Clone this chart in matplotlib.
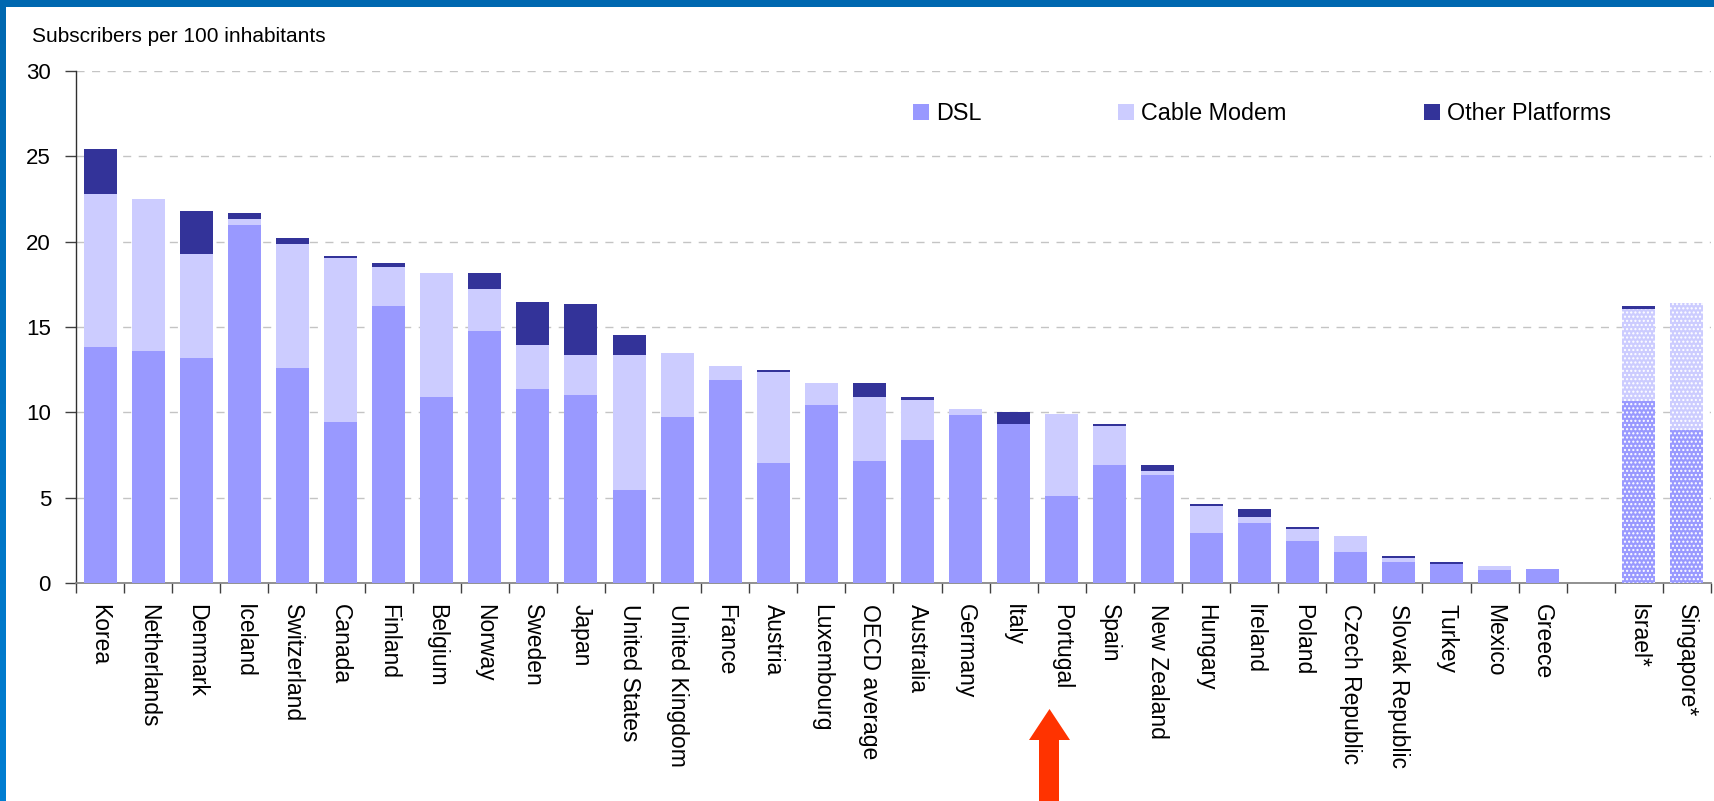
import numpy as np
import matplotlib
matplotlib.use("Agg")
import matplotlib.pyplot as plt
from matplotlib.patches import Rectangle, Polygon
from matplotlib.ticker import FixedLocator, NullFormatter
from matplotlib.colors import LinearSegmentedColormap

# ---------------- data ----------------
countries = ["Korea", "Netherlands", "Denmark", "Iceland", "Switzerland", "Canada",
             "Finland", "Belgium", "Norway", "Sweden", "Japan", "United States",
             "United Kingdom", "France", "Austria", "Luxembourg", "OECD average",
             "Australia", "Germany", "Italy", "Portugal", "Spain", "New Zealand",
             "Hungary", "Ireland", "Poland", "Czech Republic", "Slovak Republic",
             "Turkey", "Mexico", "Greece", "Israel*", "Singapore*"]
dsl = [13.83, 13.59, 13.18, 20.98, 12.60, 9.43, 16.23, 10.90, 14.77, 11.37, 11.02,
       5.45, 9.73, 11.89, 7.03, 10.43, 7.15, 8.38, 9.84, 9.32, 5.10, 6.91, 6.33,
       2.93, 3.52, 2.46, 1.82, 1.23, 1.11, 0.76, 0.82, 10.66, 8.96]
cable = [8.96, 8.91, 6.10, 0.35, 7.26, 9.61, 2.29, 7.26, 2.46, 2.58, 2.34,
         7.91, 3.75, 0.82, 5.33, 1.29, 3.75, 2.34, 0.36, 0.00, 4.80, 2.29, 0.23,
         1.58, 0.35, 0.70, 0.93, 0.23, 0.00, 0.24, 0.00, 5.38, 7.45]
other = [2.64, 0.00, 2.52, 0.35, 0.35, 0.12, 0.23, 0.00, 0.93, 2.51, 2.99,
         1.17, 0.00, 0.00, 0.12, 0.00, 0.82, 0.18, 0.00, 0.70, 0.00, 0.12, 0.35,
         0.12, 0.47, 0.12, 0.00, 0.12, 0.12, 0.00, 0.00, 0.19, 0.00]
series_names = ["DSL", "Cable Modem", "Other Platforms"]
yticks = [0, 5, 10, 15, 20, 25, 30]
ylabel_text = "Subscribers per 100 inhabitants"

# ---------------- style ----------------
c_dsl, c_cable, c_other = "#9999FF", "#CCCCFF", "#333399"
W, H = 1715, 801
plt.rcParams["font.family"] = ["Liberation Sans", "DejaVu Sans"]
plt.rcParams["hatch.linewidth"] = 1.0
plt.rcParams["lines.scale_dashes"] = False

fig = plt.figure(figsize=(W / 100, H / 100), dpi=100, facecolor="white")
ax = fig.add_axes([76 / W, 1 - 583 / H, (1711 - 76) / W, (583 - 71) / H])

dsl_a = np.array(dsl)
cab_a = np.array(cable)
oth_a = np.array(other)
starred = np.array([c.endswith("*") for c in countries])
pos = np.arange(len(countries)) + starred.astype(int)   # gap before starred economies
bw = 0.686

normal = ~starred
ax.bar(pos[normal], dsl_a[normal], bw, color=c_dsl, linewidth=0, zorder=3, label=series_names[0])
ax.bar(pos[normal], cab_a[normal], bw, bottom=dsl_a[normal], color=c_cable, linewidth=0, zorder=3,
       label=series_names[1])
ax.bar(pos[normal], oth_a[normal], bw, bottom=(dsl_a + cab_a)[normal], color=c_other, linewidth=0,
       zorder=3, label=series_names[2])
# starred economies: dotted fill
ax.bar(pos[starred], dsl_a[starred], bw, color=c_dsl, edgecolor="white", linewidth=0,
       hatch="....", zorder=3)
ax.bar(pos[starred], cab_a[starred], bw, bottom=dsl_a[starred], color=c_cable, edgecolor="white",
       linewidth=0, hatch="....", zorder=3)
ax.bar(pos[starred], oth_a[starred], bw, bottom=(dsl_a + cab_a)[starred], color=c_other,
       linewidth=0, zorder=3)

n_slots = len(countries) + 1
ax.set_xlim(-0.5, n_slots - 0.5)
ax.set_ylim(0, 30)
ax.set_yticks(yticks)
ax.set_yticklabels([str(t) for t in yticks], fontsize=16)
ax.yaxis.grid(True, color="#C4C4C4", linewidth=1.0, linestyle=(0, (5.8, 5.4)), zorder=0)
ax.set_axisbelow(True)

ax.set_xticks(pos)
ax.set_xticklabels(countries, rotation=-90, fontsize=16.5, ha="center", va="top")
ax.xaxis.set_minor_locator(FixedLocator(np.arange(n_slots + 1) - 0.5))
ax.xaxis.set_minor_formatter(NullFormatter())
ax.tick_params(axis="x", which="major", length=0, pad=15)
ax.tick_params(axis="x", which="minor", length=7, width=1.0, color="#404040", direction="out")
ax.tick_params(axis="y", length=8, width=1.0, color="#404040", pad=10, direction="out")

for s in ("top", "right"):
    ax.spines[s].set_visible(False)
ax.spines["left"].set_color("#303030")
ax.spines["left"].set_linewidth(1.0)
ax.spines["bottom"].set_color("#888888")
ax.spines["bottom"].set_linewidth(1.3)

legend_size = 16.8
fs_px = legend_size * 100 / 72
leg = ax.legend(loc="center left", bbox_to_anchor=(913 / W, 1 - 114 / H),
                bbox_transform=fig.transFigure, ncol=3, frameon=False,
                prop={"size": legend_size},
                handlelength=16 / fs_px, handleheight=16 / fs_px, handletextpad=7 / fs_px,
                columnspacing=137 / fs_px, borderpad=0, borderaxespad=0)

fig.text(32 / W, 1 - 42 / H, ylabel_text, fontsize=15, ha="left", va="baseline")

# blue frame (top band + left gradient band)
fig.add_artist(Rectangle((0, 1 - 7 / H), 1, 7 / H, transform=fig.transFigure,
                         color="#0068B0", linewidth=0, zorder=10))
gax = fig.add_axes([0, 0, 6 / W, 1 - 7 / H])
grad = np.linspace(0, 1, 256).reshape(-1, 1)
cmap = LinearSegmentedColormap.from_list("b", ["#0068B0", "#007ED2"])
gax.imshow(grad, aspect="auto", cmap=cmap, extent=(0, 1, 0, 1), origin="upper")
gax.set_axis_off()

# red arrow pointing at Portugal
def fx(px):
    return px / W
def fy(py):
    return 1 - py / H
arrow_pts = [(fx(1049.5), fy(709)), (fx(1070), fy(740)), (fx(1059), fy(740)), (fx(1059), fy(805)),
             (fx(1039), fy(805)), (fx(1039), fy(740)), (fx(1029), fy(740))]
fig.add_artist(Polygon(arrow_pts, closed=True, transform=fig.transFigure,
                       facecolor="#FF3300", edgecolor="none", zorder=10))

fig.savefig("out.png", dpi=100, facecolor="white")
